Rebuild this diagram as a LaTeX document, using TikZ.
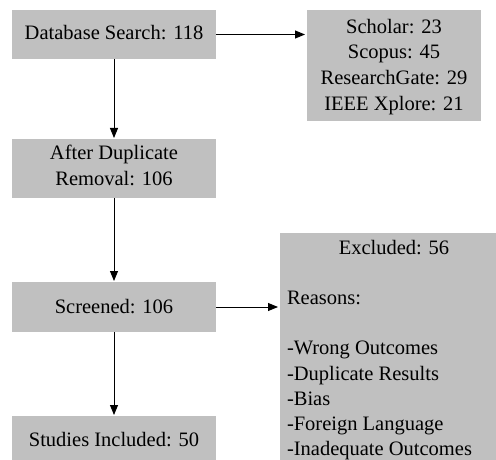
\documentclass[tikz,border=0pt]{standalone}
\usepackage{fontspec}
\setmainfont{Liberation Serif}
\usetikzlibrary{arrows.meta}
\definecolor{boxgray}{RGB}{192,192,192}
% #1 height, #2 width, #3 alignment, #4 first-baseline depth from top, #5 text
\newcommand\gbox[5]{\parbox[c][#1][t]{#2}{\fontsize{20.5}{25.6}\selectfont#3\rule{0pt}{#4}#5}}
\begin{document}
\begin{tikzpicture}[x=1pt,y=-1pt,
  box/.style={fill=boxgray, draw=none, rectangle, inner sep=0pt, outer sep=0pt},
  conn/.style={line width=1pt, -{Triangle[length=10pt,width=8pt]}}]
\useasboundingbox (0,0) rectangle (496,460);
\node[box, anchor=north west] (db) at (12,10)
  {\gbox{49pt}{204pt}{\centering}{30pt}{Database Search: 118}};
\node[box, anchor=north west] (src) at (307,10)
  {\gbox{111pt}{174pt}{\centering}{23.3pt}{Scholar: 23\\Scopus: 45\\ResearchGate: 29\\IEEE Xplore: 21}};
\node[box, anchor=north west] (dup) at (12,139)
  {\gbox{59pt}{204pt}{\centering}{20.6pt}{After Duplicate\\Removal: 106}};
\node[box, anchor=north west] (scr) at (12,282)
  {\gbox{50pt}{204pt}{\centering}{31pt}{Screened: 106}};
\node[box, anchor=north west] (inc) at (12,416)
  {\gbox{50pt}{204pt}{\centering}{30.5pt}{Studies Included: 50}};
\node[box, anchor=north west] (exc) at (280,233)
  {\gbox{235pt}{228pt}{\raggedright\leftskip=7pt\baselineskip=25.2pt}{21pt}{\hspace*{-7pt}\makebox[\linewidth]{Excluded: 56}\\
   \mbox{}\\
   Reasons:\\
   \mbox{}\\
   -Wrong Outcomes\\
   -Duplicate Results\\
   -Bias\\
   -Foreign Language\\
   -Inadequate Outcomes}};
\draw[conn, shorten >=2pt] (db.east) -- (db.east -| src.west);
\draw[conn, shorten >=1pt] (db.south) -- (dup.north);
\draw[conn, shorten >=1pt] (dup.south) -- (scr.north);
\draw[conn, shorten >=2pt] (scr.east) -- (scr.east -| exc.west);
\draw[conn, shorten >=1pt] (scr.south) -- (inc.north);
\end{tikzpicture}
\end{document}
